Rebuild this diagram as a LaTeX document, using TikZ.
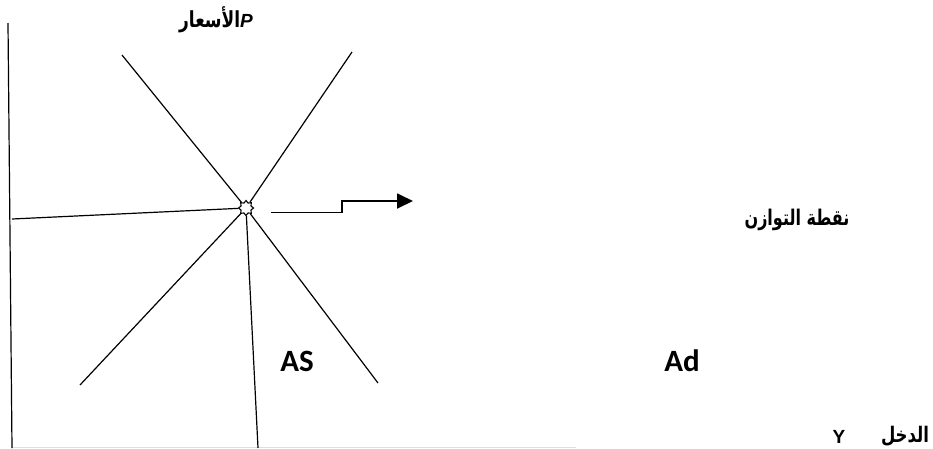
\documentclass[tikz,border=0pt]{standalone}
\usepackage{fontspec}
\usepackage{graphicx}
\setmainfont{Liberation Sans}
\newfontfamily\arabicfont[Script=Arabic]{DejaVu Sans Bold}
\newfontfamily\calib{Carlito}
\TeXXeTstate=1
\usetikzlibrary{shapes.geometric,arrows.meta}
\begin{document}
\begin{tikzpicture}[x=1pt,y=-1pt,
  curve/.style={line width=1.2pt,black},
  lbl/.style={inner sep=0pt,font=\calib\bfseries\fontsize{31}{34}\selectfont},
  artext/.style={inner sep=0pt},
  eqstar/.style={star,star points=8,star point ratio=1.4,minimum size=15pt,draw,line width=1.1pt,fill=white,inner sep=0pt}]
\useasboundingbox (0,0) rectangle (933,448);
\node[eqstar] (eq) at (246,208) {};
\coordinate (axtop) at (8,23);
\coordinate (axbot) at (12,448);
\coordinate (hl) at (12,219);
\coordinate (ul) at (122,55);
\coordinate (lr) at (378,383);
\coordinate (ll) at (80,385);
\coordinate (ur) at (352,52);
\coordinate (vb) at (258,448);
\coordinate (xaxL) at (12,447.3);
\coordinate (xaxR) at (576,447.3);
\draw[gray!25,line width=1pt] (xaxL) -- (xaxR);
\draw[curve] (axtop) -- (axbot);
\draw[curve] (hl) -- (eq);
\draw[curve] (ul) -- (eq);
\draw[curve] (eq) -- (lr);
\draw[curve] (ll) -- (eq);
\draw[curve] (eq) -- (ur);
\draw[curve] (eq) -- (vb);
\coordinate (a0) at (271,212.5);
\coordinate (a1) at (342,212.5);
\coordinate (a2) at (342,201);
\coordinate (a3) at (413,201);
\draw[line width=1.8pt,-{Triangle[length=16pt,width=15pt]}] (a0) -- (a1) -- (a2) -- (a3);
\node[artext] (ptitle) at (216,20) {\scalebox{1}[1.3]{\arabicfont\fontsize{17}{20}\selectfont\beginR الأسعار\endR}{\bfseries\itshape\fontsize{19}{20}\selectfont P}};
\node[artext] (eqlabel) at (797,220) {\scalebox{1}[1.35]{\arabicfont\fontsize{16}{20}\selectfont\beginR نقطة التوازن\endR}};
\node[lbl] (as) at (297,361) {AS};
\node[lbl] (ad) at (682,361) {Ad};
\node[artext] (ylab) at (839,437) {\bfseries\fontsize{19}{20}\selectfont Y};
\node[artext] (dakhl) at (905,436) {\scalebox{1}[1.3]{\arabicfont\fontsize{16.5}{20}\selectfont\beginR الدخل\endR}};
\end{tikzpicture}
\end{document}
